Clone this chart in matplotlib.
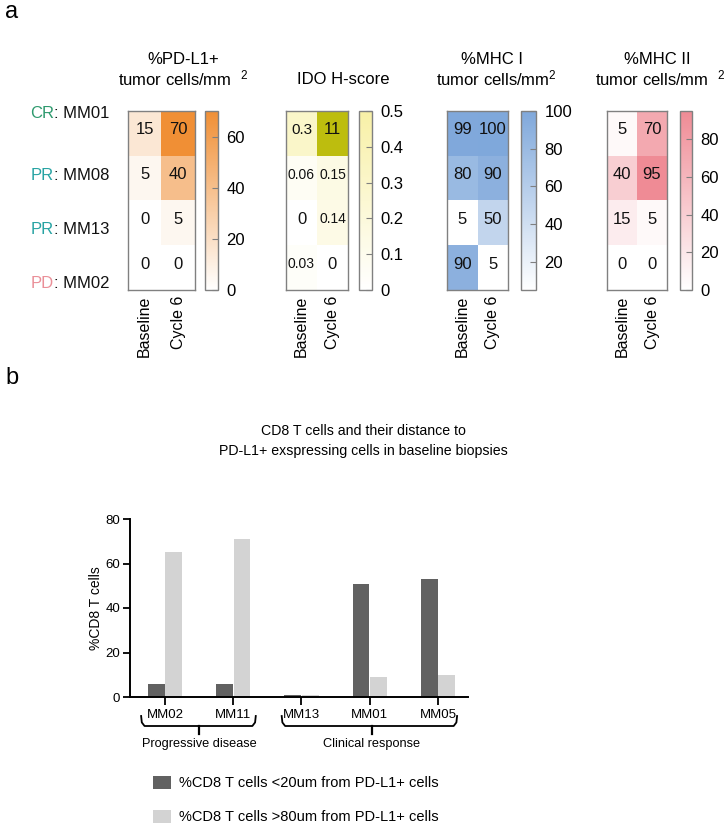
import numpy as np
import matplotlib
matplotlib.use("Agg")
import matplotlib.pyplot as plt
from matplotlib.colors import LinearSegmentedColormap
from matplotlib.transforms import blended_transform_factory

plt.rcParams['font.family'] = ['Liberation Sans', 'DejaVu Sans']
plt.rcParams['mathtext.fontset'] = 'custom'
plt.rcParams['mathtext.rm'] = 'Liberation Sans'
plt.rcParams['mathtext.it'] = 'Liberation Sans'

# ---------------- data ----------------
patients = ["MM01", "MM08", "MM13", "MM02"]
responses = ["CR", "PR", "PR", "PD"]
response_colors = {"CR": "#2E9A6E", "PR": "#27A3A3", "PD": "#EA8F98"}
timepoints = ["Baseline", "Cycle 6"]

pdl1 = [[15, 70], [5, 40], [0, 5], [0, 0]]
ido = [[0.3, 11], [0.06, 0.15], [0, 0.14], [0.03, 0]]
ido_labels = [["0.3", "11"], ["0.06", "0.15"], ["0", "0.14"], ["0.03", "0"]]
mhc1 = [[99, 100], [80, 90], [5, 50], [90, 5]]
mhc2 = [[5, 70], [40, 95], [15, 5], [0, 0]]

bar_cats = ["MM02", "MM11", "MM13", "MM01", "MM05"]
near_vals = [6, 6, 1, 51, 53]
far_vals = [65, 71, 0.8, 9, 10]
groups = ["Progressive disease", "Clinical response"]

W, H = 726, 826
fig = plt.figure(figsize=(W / 100, H / 100), dpi=100)


def rect(x0, y0, x1, y1):
    return [x0 / W, 1 - y1 / H, (x1 - x0) / W, (y1 - y0) / H]


def fx(x):
    return x / W


def fy(y):
    return 1 - y / H


fig.text(fx(5), fy(12), "a", fontsize=17, va="center", ha="left")
fig.text(fx(5), fy(378), "b", fontsize=17, va="center", ha="left")

# ---------------- heatmaps ----------------
panels = [
    dict(data=pdl1, labels=None, cmap=["#FFFFFF", "#F08F35"], vmin=0, vmax=70,
         ticks=[0, 20, 40, 60], ticklabels=None,
         heat=(128, 195), cb=(205, 218), fs=[[12] * 2] * 4),
    dict(data=ido, labels=ido_labels, cmap=["#FFFFFF", "#F8F0A6"], vmin=0, vmax=0.5,
         ticks=[0, 0.1, 0.2, 0.3, 0.4, 0.5], ticklabels=["0", "0.1", "0.2", "0.3", "0.4", "0.5"],
         heat=(286, 348), cb=(359, 372), over="#BDBD0E",
         fs=[[11, 12], [10, 10], [12, 10], [10, 12]]),
    dict(data=mhc1, labels=None, cmap=["#FFFFFF", "#7FA8DB"], vmin=5, vmax=100,
         ticks=[20, 40, 60, 80, 100], ticklabels=None,
         heat=(447, 508), cb=(521, 536), fs=[[12] * 2] * 4),
    dict(data=mhc2, labels=None, cmap=["#FFFFFF", "#EF8B95"], vmin=0, vmax=95,
         ticks=[0, 20, 40, 60, 80], ticklabels=None,
         heat=(607, 667), cb=(680, 692), fs=[[12] * 2] * 4),
]

top, bot = 111, 290
for p in panels:
    cm = LinearSegmentedColormap.from_list("c", p["cmap"])
    if "over" in p:
        cm.set_over(p["over"])
    arr = np.array(p["data"], dtype=float)
    ax = fig.add_axes(rect(p["heat"][0], top, p["heat"][1], bot))
    im = ax.imshow(arr, cmap=cm, vmin=p["vmin"], vmax=p["vmax"], aspect="auto",
                   interpolation="nearest")
    for i in range(arr.shape[0]):
        for j in range(arr.shape[1]):
            lab = p["labels"][i][j] if p["labels"] else f"{arr[i, j]:g}"
            ax.text(j, i - 0.08, lab, ha="center", va="center", fontsize=p["fs"][i][j],
                    color="#111111")
    ax.set_yticks([])
    ax.set_xticks(range(len(timepoints)))
    ax.set_xticklabels(timepoints, rotation=90, fontsize=11.5)
    ax.tick_params(axis="x", length=0, pad=4)
    for s in ax.spines.values():
        s.set_color("#808080")
        s.set_linewidth(1.0)
    cax = fig.add_axes(rect(p["cb"][0], top, p["cb"][1], bot))
    cbar = fig.colorbar(im, cax=cax, ticks=p["ticks"])
    if p["ticklabels"]:
        cbar.set_ticklabels(p["ticklabels"])
    cbar.outline.set_edgecolor("#808080")
    cbar.outline.set_linewidth(1.0)
    cax.tick_params(labelsize=12, length=4, direction="in", color="#808080", pad=6)

# titles
tfs = 12
fig.text(fx(183), fy(59), "%PD-L1+", fontsize=tfs, ha="center", va="center")
fig.text(fx(183), fy(78), "tumor cells/mm  $^{2}$", fontsize=tfs, ha="center", va="center")
fig.text(fx(343), fy(80), "IDO H-score", fontsize=tfs, ha="center", va="center")
fig.text(fx(492), fy(60), "%MHC I", fontsize=tfs, ha="center", va="center")
fig.text(fx(496), fy(78), "tumor cells/mm$^{2}$", fontsize=tfs, ha="center", va="center")
fig.text(fx(657), fy(59), "%MHC II", fontsize=tfs, ha="center", va="center")
fig.text(fx(660), fy(78), "tumor cells/mm  $^{2}$", fontsize=tfs, ha="center", va="center")

# row labels
row_y = [113, 176, 229, 283]
for pat, resp, y in zip(patients, responses, row_y):
    fig.text(fx(54), fy(y), resp, color=response_colors[resp], fontsize=12,
             ha="right", va="center")
    fig.text(fx(54), fy(y), ": " + pat, color="#111111", fontsize=12,
             ha="left", va="center")

# ---------------- bar chart ----------------
fig.text(fx(363), fy(431), "CD8 T cells and their distance to", fontsize=10.2,
         ha="center", va="center")
fig.text(fx(363), fy(451), "PD-L1+ exspressing cells in baseline biopsies", fontsize=10.2,
         ha="center", va="center")

ax_top, ax_bot = 519, 697
bx = fig.add_axes(rect(130, ax_top, 468, ax_bot))
x = np.arange(len(bar_cats))
w = 0.245
b1 = bx.bar(x - 0.127, near_vals, width=w, color="#616161",
            label="%CD8 T cells <20um from PD-L1+ cells")
b2 = bx.bar(x + 0.127, far_vals, width=w, color="#D3D3D3",
            label="%CD8 T cells >80um from PD-L1+ cells")
bx.set_xlim(-0.513, 4.44)
bx.set_ylim(0, 80)
bx.set_yticks([0, 20, 40, 60, 80])
bx.set_xticks(x)
bx.set_xticklabels(bar_cats, fontsize=9.5)
bx.tick_params(axis="y", labelsize=9.5, length=5, width=1.3, pad=2)
bx.tick_params(axis="x", length=6, width=1.3, pad=3)
for s in ["top", "right"]:
    bx.spines[s].set_visible(False)
for s in ["left", "bottom"]:
    bx.spines[s].set_linewidth(1.4)
bx.set_ylabel("%CD8 T cells", fontsize=10, labelpad=2)

axh = ax_bot - ax_top


def ay(ypx):
    return (ax_bot - ypx) / axh


tr = blended_transform_factory(bx.transData, bx.transAxes)
brackets = [(-0.35, 1.33, 0.5), (1.71, 4.28, 3.03)]
for (xa, xb, xc), g in zip(brackets, groups):
    yline, ytip, ynub = ay(726), ay(716), ay(734)
    d = 0.05
    bx.plot([xa, xa + 0.01, xa + d, xb - d, xb - 0.01, xb],
            [ytip, yline + 0.02, yline, yline, yline + 0.02, ytip],
            color="black", lw=1.3, transform=tr, clip_on=False)
    bx.plot([xc, xc], [yline, ynub], color="black", lw=1.6, transform=tr, clip_on=False)
    bx.text(xc, ay(744), g, transform=tr, ha="center", va="center", fontsize=9.2)

fig.legend(handles=[b1, b2], loc="upper left", bbox_to_anchor=(fx(153), fy(776)),
           frameon=False, fontsize=10.5, handlelength=1.2, handleheight=0.95,
           handletextpad=0.6, labelspacing=1.35, borderpad=0, borderaxespad=0)

fig.savefig("out.png", dpi=100)
